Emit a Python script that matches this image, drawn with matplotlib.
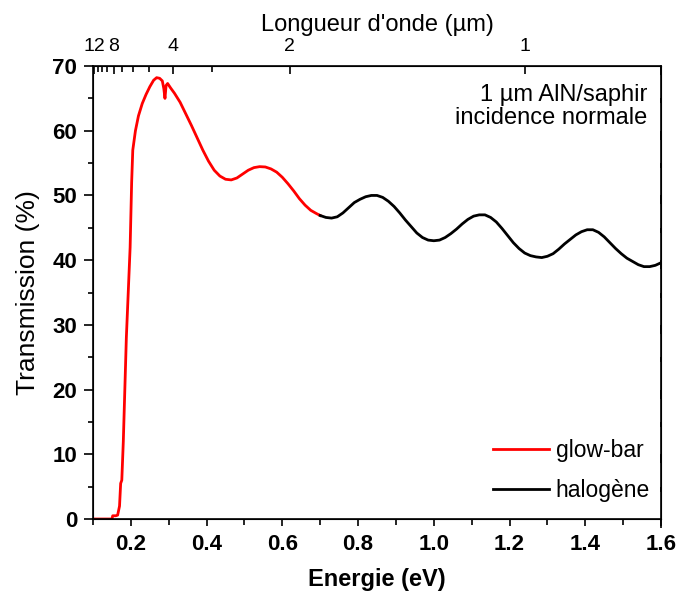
import numpy as np
import matplotlib.pyplot as plt
from matplotlib.ticker import MultipleLocator, FixedLocator, NullFormatter

plt.rcParams.update({
    "font.family": "Liberation Sans",
    "font.size": 16,
    "lines.linewidth": 2,
})

# glow-bar source (red)
E_glow = [0.100, 0.150, 0.152, 0.160, 0.165, 0.170, 0.173, 0.176, 0.180, 0.183,
          0.188, 0.193, 0.198, 0.202, 0.205, 0.212, 0.220, 0.230, 0.240, 0.250,
          0.260, 0.268, 0.276, 0.283, 0.287, 0.290, 0.293, 0.297, 0.305, 0.315,
          0.330, 0.345, 0.360, 0.375, 0.390, 0.405, 0.420, 0.435, 0.450, 0.465,
          0.480, 0.495, 0.510, 0.525, 0.540, 0.555, 0.570, 0.585, 0.600, 0.615,
          0.630, 0.645, 0.660, 0.675, 0.690, 0.700]
T_glow = [0.0, 0.0, 0.5, 0.5, 0.6, 2.0, 5.5, 6.0, 12.0, 18.0,
          28.0, 35.0, 42.0, 52.0, 57.0, 60.0, 62.3, 64.2, 65.6, 66.8,
          67.8, 68.2, 68.1, 67.7, 66.5, 65.0, 67.0, 67.3, 66.6, 65.8,
          64.4, 62.6, 60.8, 58.9, 57.0, 55.3, 53.9, 53.0, 52.5, 52.4,
          52.7, 53.3, 53.9, 54.3, 54.45, 54.4, 54.1, 53.6, 52.8, 51.8,
          50.7, 49.5, 48.5, 47.7, 47.2, 46.9]

# halogen source (black)
E_halo = [0.700, 0.715, 0.730, 0.745, 0.760, 0.775, 0.790, 0.805, 0.820, 0.835,
          0.850, 0.865, 0.880, 0.895, 0.910, 0.925, 0.940, 0.955, 0.970, 0.985,
          1.000, 1.015, 1.030, 1.045, 1.060, 1.075, 1.090, 1.105, 1.120, 1.135,
          1.150, 1.165, 1.180, 1.195, 1.210, 1.225, 1.240, 1.255, 1.270, 1.285,
          1.300, 1.315, 1.330, 1.345, 1.360, 1.375, 1.390, 1.405, 1.420, 1.435,
          1.450, 1.465, 1.480, 1.495, 1.510, 1.525, 1.540, 1.555, 1.570, 1.585,
          1.600]
T_halo = [46.9, 46.6, 46.5, 46.7, 47.3, 48.1, 48.9, 49.4, 49.8, 50.0,
          50.0, 49.7, 49.1, 48.3, 47.3, 46.2, 45.2, 44.2, 43.5, 43.1,
          43.0, 43.1, 43.5, 44.1, 44.8, 45.6, 46.3, 46.8, 47.0, 47.0,
          46.6, 45.9, 44.9, 43.8, 42.7, 41.8, 41.1, 40.7, 40.5, 40.4,
          40.6, 41.0, 41.7, 42.5, 43.2, 43.9, 44.4, 44.7, 44.7, 44.3,
          43.6, 42.7, 41.8, 41.0, 40.3, 39.8, 39.3, 39.0, 39.0, 39.2,
          39.6]

# top axis: wavelength (um)
lam_major = [12, 8, 4, 2, 1]
lam_minor = [1, 2, 3, 4, 5, 6, 7, 8, 9, 10, 11, 12]
hc = 1.2398

fig = plt.figure(figsize=(6.77, 5.98), dpi=100)
ax = fig.add_axes([0.1374, 0.1321, 0.839, 0.7575])

ax.plot(E_glow, T_glow, color='red', lw=2, label='glow-bar')
ax.plot(E_halo, T_halo, color='black', lw=2, label='halogène')

ax.set_xlim(0.1, 1.6)
ax.set_ylim(0, 70)
ax.xaxis.set_major_locator(MultipleLocator(0.2))
ax.xaxis.set_minor_locator(MultipleLocator(0.1))
ax.yaxis.set_major_locator(MultipleLocator(10))
ax.yaxis.set_minor_locator(MultipleLocator(5))
ax.xaxis.set_major_formatter(plt.FuncFormatter(lambda v, p: f"{v:.1f}"))
ax.tick_params(which='both', direction='out', top=False, right=True,
               labelright=False, width=1.2, labelsize=16)
ax.tick_params(axis='x', which='major', length=5, pad=6)
ax.tick_params(axis='x', which='minor', length=4)
ax.tick_params(axis='y', which='major', length=6.5, pad=5)
ax.tick_params(axis='y', which='minor', length=3.5)
for lab in ax.get_xticklabels() + ax.get_yticklabels():
    lab.set_fontweight('bold')
for s in ax.spines.values():
    s.set_linewidth(1.2)

# right-hand ticks point inward
for t in ax.yaxis.get_major_ticks() + ax.yaxis.get_minor_ticks():
    t.tick2line.set_marker(3)

ax.set_xlabel('Energie (eV)', fontsize=17, fontweight='bold', labelpad=9)
ax.set_ylabel('Transmission (%)', fontsize=19, labelpad=9)

ax2 = ax.twiny()
ax2.set_xlim(ax.get_xlim())
ax2.xaxis.set_major_locator(FixedLocator([hc / l for l in lam_major]))
ax2.xaxis.set_minor_locator(FixedLocator([hc / l for l in lam_minor]))
ax2.set_xticklabels([str(l) for l in lam_major], fontsize=14)
ax2.xaxis.set_minor_formatter(NullFormatter())
ax2.tick_params(which='both', direction='in', width=1.2, pad=8)
ax2.tick_params(which='major', length=6)
ax2.tick_params(which='minor', length=4)
ax2.set_xlabel("Longueur d'onde (µm)", fontsize=17, labelpad=5)

ax.text(0.976, 0.96, '1 µm AlN/saphir\nincidence normale', transform=ax.transAxes,
        ha='right', va='top', fontsize=17, linespacing=1.05)

ax.legend(loc='lower right', frameon=False, fontsize=16.5, handlelength=2.45,
          handletextpad=0.3, labelspacing=0.75, bbox_to_anchor=(1.017, -0.008))

fig.savefig('out.png', dpi=100)
